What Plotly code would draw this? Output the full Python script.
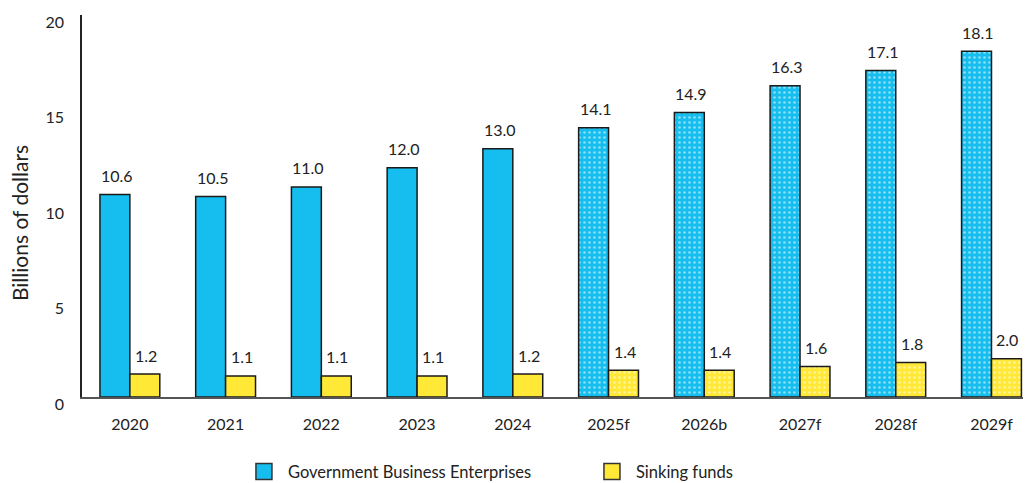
import plotly.graph_objects as go

categories = ["2020", "2021", "2022", "2023", "2024", "2025f", "2026b", "2027f", "2028f", "2029f"]
gbe = [10.6, 10.5, 11.0, 12.0, 13.0, 14.1, 14.9, 16.3, 17.1, 18.1]
sinking = [1.2, 1.1, 1.1, 1.1, 1.2, 1.4, 1.4, 1.6, 1.8, 2.0]
forecast = [False, False, False, False, False, True, True, True, True, True]

BLUE = "#15BEEE"
YELLOW = "#FFE836"
FONT = "Lato"
TXT = "#222222"

shapes = ["." if f else "" for f in forecast]

fig = go.Figure()
fig.add_trace(go.Bar(
    x=categories, y=gbe, name="Government Business Enterprises", showlegend=False,
    marker=dict(color=BLUE, line=dict(color="#1a1a1a", width=1.5),
                pattern=dict(shape=shapes, fgcolor="white", bgcolor=BLUE,
                             size=5, solidity=0.22, fillmode="overlay")),
))
fig.add_trace(go.Bar(
    x=categories, y=sinking, name="Sinking funds", showlegend=False,
    marker=dict(color=YELLOW, line=dict(color="#1a1a1a", width=1.5),
                pattern=dict(shape=shapes, fgcolor="white", bgcolor=YELLOW,
                             size=5, solidity=0.22, fillmode="overlay")),
))
# legend proxies
for name, col in [("Government Business Enterprises", BLUE), ("Sinking funds", YELLOW)]:
    fig.add_trace(go.Scatter(
        x=[None], y=[None], mode="markers", name=name,
        marker=dict(symbol="square", size=22, color=col, line=dict(color="#333", width=1.5)),
    ))

annotations = []
for i, v in enumerate(gbe):
    annotations.append(dict(x=i, y=v, xref="x", yref="y", text=f"{v:.1f}", showarrow=False,
                            xshift=-13, yshift=19, yanchor="middle",
                            font=dict(family=FONT, size=16, color=TXT)))
for i, v in enumerate(sinking):
    annotations.append(dict(x=i, y=v, xref="x", yref="y", text=f"{v:.1f}", showarrow=False,
                            xshift=16, yshift=19, yanchor="middle",
                            font=dict(family=FONT, size=16, color=TXT)))
# y-axis title
annotations.append(dict(x=-0.0657, y=0.4555, xref="paper", yref="paper", text="Billions of dollars",
                        textangle=-90, showarrow=False, xanchor="center", yanchor="middle",
                        font=dict(family=FONT, size=21, color=TXT)))

fig.update_layout(
    width=1023, height=475,
    margin=dict(l=74, r=6, t=7, b=86, autoexpand=False),
    paper_bgcolor="white", plot_bgcolor="white",
    barmode="group", bargap=0.375, bargroupgap=0,
    font=dict(family=FONT, size=16, color=TXT),
    annotations=annotations,
    legend=dict(orientation="h", x=0.1675, xanchor="left", y=-0.196, yanchor="middle",
                font=dict(family=FONT, size=16.5, color=TXT),
                entrywidth=295, entrywidthmode="pixels", itemsizing="trace", itemwidth=38),
    xaxis=dict(type="category", range=[-0.5, 9.35], showline=True, linecolor="#555555",
               linewidth=2, ticks="", showgrid=False, automargin=False,
               ticklabelstandoff=12,
               tickfont=dict(family=FONT, size=16, color=TXT)),
    yaxis=dict(range=[0, 20], tickvals=[0, 5, 10, 15, 20], showline=True, linecolor="#222222",
               linewidth=1.5, ticks="", showgrid=False, zeroline=False, automargin=False,
               ticklabelshift=7, ticklabelstandoff=13,
               tickfont=dict(family=FONT, size=16, color=TXT)),
)

fig.write_html("out.html")
